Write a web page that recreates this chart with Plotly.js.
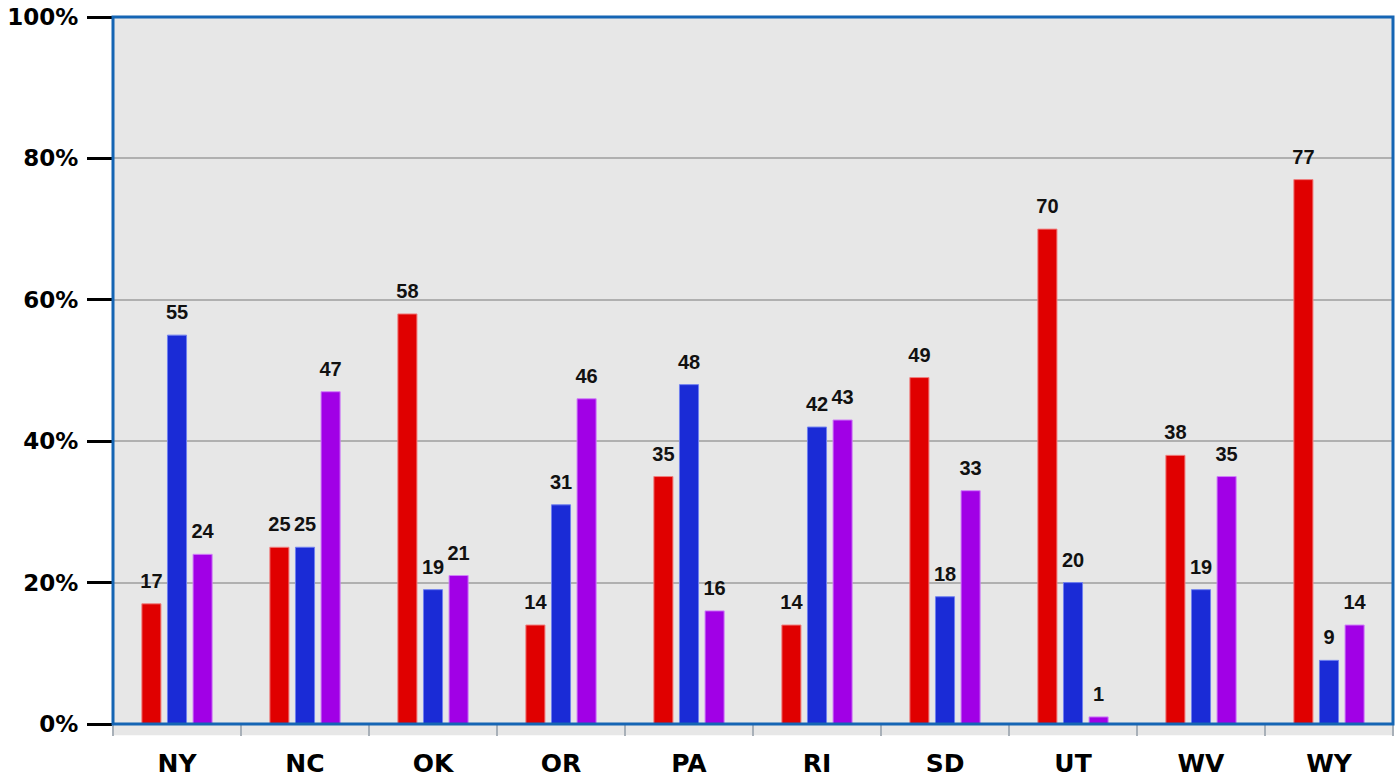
<!DOCTYPE html>
<html>
<head>
<meta charset="utf-8">
<script src="https://cdn.plot.ly/plotly-3.0.1.min.js"></script>
<style>html,body{margin:0;padding:0;background:#fff;}#chart{width:1398px;height:780px;}</style>
</head>
<body>
<div id="chart"></div>
<script>
const states = ["NY", "NC", "OK", "OR", "PA", "RI", "SD", "UT", "WV", "WY"];
const redValues = [17, 25, 58, 14, 35, 14, 49, 70, 38, 77];
const blueValues = [55, 25, 19, 31, 48, 42, 18, 20, 19, 9];
const purpleValues = [24, 47, 21, 46, 16, 43, 33, 1, 35, 14];
const yTickValues = [0, 20, 40, 60, 80, 100];

function barTrace(values, color, outline, group) {
  return {
    type: "bar",
    x: states,
    y: values,
    offsetgroup: group,
    marker: {color: color, line: {color: outline, width: 1}},
    hoverinfo: "x+y"
  };
}

function labelTrace(values, group) {
  return {
    type: "scatter",
    mode: "markers+text",
    x: states,
    y: values,
    offsetgroup: group,
    text: values.map(String),
    textposition: "top center",
    cliponaxis: false,
    marker: {size: 16, opacity: 0},
    textfont: {family: "Liberation Sans, Arial, sans-serif", size: 20, color: "#111", weight: 700},
    hoverinfo: "skip"
  };
}

const data = [
  barTrace(redValues, "#e00000", "#f08080", "a"),
  barTrace(blueValues, "#1a2bd6", "#7080f0", "b"),
  barTrace(purpleValues, "#a100e6", "#d080f8", "c"),
  labelTrace(redValues, "a"),
  labelTrace(blueValues, "b"),
  labelTrace(purpleValues, "c")
];

const layout = {
  width: 1398,
  height: 780,
  margin: {l: 113, r: 5, t: 17, b: 56},
  paper_bgcolor: "#ffffff",
  plot_bgcolor: "#e7e7e7",
  showlegend: false,
  barmode: "group",
  bargap: 0.40,
  bargroupgap: 0.255,
  scattermode: "group",
  scattergap: 0.40,
  xaxis: {
    type: "category",
    ticks: "outside",
    tickson: "boundaries",
    ticklen: 11,
    tickwidth: 2,
    tickcolor: "#a8b0b8",
    showgrid: false,
    zeroline: false,
    showline: false,
    tickfont: {family: "DejaVu Sans, sans-serif", size: 25, color: "#000", weight: 700},
    ticklabelstandoff: 22
  },
  yaxis: {
    range: [0, 100],
    tickvals: yTickValues,
    ticktext: yTickValues.map(v => v + "%"),
    ticks: "outside",
    ticklen: 25,
    tickwidth: 3,
    tickcolor: "#000",
    showgrid: true,
    gridcolor: "#b0b0b0",
    gridwidth: 2,
    zeroline: false,
    showline: false,
    tickfont: {family: "DejaVu Sans, sans-serif", size: 23, color: "#000", weight: 700},
    ticklabelstandoff: 4
  },
  shapes: [
    {type: "rect", xref: "paper", yref: "paper", x0: 0, x1: 1, y0: -0.016, y1: 0, fillcolor: "#e7e7e7", line: {width: 0}, layer: "below"},
    {type: "rect", xref: "paper", yref: "paper", x0: 0, x1: 1, y0: 0, y1: 1, fillcolor: "rgba(0,0,0,0)", line: {color: "#1565b4", width: 3}, layer: "above"}
  ]
};

Plotly.newPlot("chart", data, layout, {displayModeBar: false, staticPlot: true});
</script>
</body>
</html>
